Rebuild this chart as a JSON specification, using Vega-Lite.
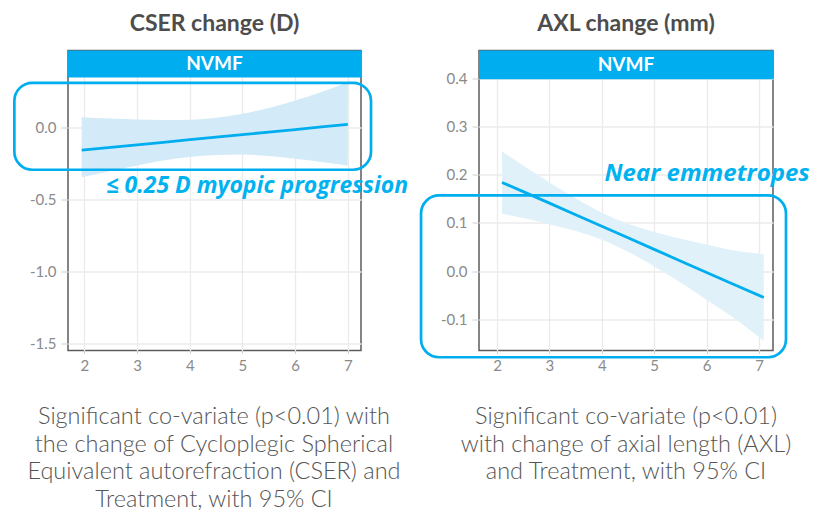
{
  "$schema": "https://vega.github.io/schema/vega-lite/v6.json",
  "background": "white",
  "padding": {"left": 12, "top": 11.5, "right": 5, "bottom": 0},
  "bounds": "flush",
  "spacing": 118,
  "config": {
    "view": {"stroke": "#5c5c5c", "strokeWidth": 1.5},
    "axis": {
      "domain": false,
      "labelFont": "Lato",
      "labelFontSize": 15,
      "labelColor": "#8a8a8a",
      "tickColor": "#d0d0d0",
      "gridColor": "#ebebeb",
      "gridWidth": 1.3
    },
    "axisX": {"tickSize": 3, "labelPadding": 5},
    "axisY": {"tickSize": 7, "labelPadding": 5},
    "title": {
      "font": "Lato",
      "fontSize": 23,
      "fontWeight": "bold",
      "color": "#4d4d4d",
      "anchor": "middle",
      "baseline": "alphabetic",
      "offset": 14.5
    }
  },
  "hconcat": [
    {
      "width": 293,
      "height": 300,
      "title": {"text": "CSER change (D)"},
      "layer": [
        {
          "data": {"values": [
            {"x": 1.95, "fit": -0.156, "lo": -0.344, "hi": 0.074},
            {"x": 2.5, "fit": -0.136, "lo": -0.300, "hi": 0.064},
            {"x": 3.0, "fit": -0.119, "lo": -0.262, "hi": 0.057},
            {"x": 3.5, "fit": -0.101, "lo": -0.228, "hi": 0.054},
            {"x": 4.0, "fit": -0.083, "lo": -0.204, "hi": 0.056},
            {"x": 4.5, "fit": -0.065, "lo": -0.190, "hi": 0.070},
            {"x": 5.0, "fit": -0.047, "lo": -0.186, "hi": 0.097},
            {"x": 5.5, "fit": -0.030, "lo": -0.196, "hi": 0.138},
            {"x": 6.0, "fit": -0.012, "lo": -0.216, "hi": 0.190},
            {"x": 6.5, "fit": 0.006, "lo": -0.238, "hi": 0.250},
            {"x": 7.0, "fit": 0.024, "lo": -0.262, "hi": 0.317}
          ]},
          "layer": [
            {
              "mark": {"type": "area", "color": "#D3EBF8", "opacity": 1, "interpolate": "monotone"},
              "encoding": {
                "x": {"field": "x", "type": "quantitative", "scale": {"domain": [1.69, 7.25], "nice": false, "zero": false}, "axis": {"values": [2, 3, 4, 5, 6, 7], "format": "d", "title": null}},
                "y": {"field": "lo", "type": "quantitative", "scale": {"domain": [-1.55, 0.538], "nice": false, "zero": false}, "axis": {"values": [-1.5, -1, -0.5, 0], "title": null, "labelExpr": "replace(format(datum.value, '.1f'), '\u2212', '-')"}},
                "y2": {"field": "hi"}
              }
            },
            {
              "mark": {"type": "line", "color": "#00AEEF", "strokeWidth": 2.8},
              "encoding": {
                "x": {"field": "x", "type": "quantitative", "scale": {"domain": [1.69, 7.25], "nice": false, "zero": false}, "axis": {"title": null}},
                "y": {"field": "fit", "type": "quantitative", "scale": {"domain": [-1.55, 0.538], "nice": false, "zero": false}, "axis": {"title": null}}
              }
            }
          ]
        },
        {
          "data": {"values": [{"x0": 1.69, "x1": 7.25, "y0": 0.35, "y1": 0.538, "xc": 4.47, "yc": 0.444, "label": "NVMF"}]},
          "layer": [
            {
              "mark": {"type": "rect", "color": "#00AEEF", "opacity": 1},
              "encoding": {
                "x": {"field": "x0", "type": "quantitative", "scale": {"domain": [1.69, 7.25], "nice": false, "zero": false}, "axis": {"title": null}},
                "x2": {"field": "x1"},
                "y": {"field": "y0", "type": "quantitative", "scale": {"domain": [-1.55, 0.538], "nice": false, "zero": false}, "axis": {"title": null}},
                "y2": {"field": "y1"}
              }
            },
            {
              "mark": {"type": "text", "color": "white", "font": "Lato", "fontWeight": "bold", "fontSize": 19, "align": "center", "baseline": "middle"},
              "encoding": {
                "x": {"field": "xc", "type": "quantitative", "scale": {"domain": [1.69, 7.25], "nice": false, "zero": false}, "axis": {"title": null}},
                "y": {"field": "yc", "type": "quantitative", "scale": {"domain": [-1.55, 0.538], "nice": false, "zero": false}, "axis": {"title": null}},
                "text": {"field": "label"}
              }
            }
          ]
        },
        {
          "data": {"values": [{"x0": 0.672, "x1": 7.44, "y0": -0.292, "y1": 0.313}]},
          "mark": {"type": "rect", "filled": false, "stroke": "#00AEEF", "strokeWidth": 2.7, "cornerRadius": 18},
          "encoding": {
            "x": {"field": "x0", "type": "quantitative", "scale": {"domain": [1.69, 7.25], "nice": false, "zero": false}, "axis": {"title": null}},
            "x2": {"field": "x1"},
            "y": {"field": "y0", "type": "quantitative", "scale": {"domain": [-1.55, 0.538], "nice": false, "zero": false}, "axis": {"title": null}},
            "y2": {"field": "y1"}
          }
        },
        {
          "data": {"values": [{"x": 2.41, "y": -0.452, "label": "≤ 0.25 D myopic progression"}]},
          "mark": {"type": "text", "color": "#00B2EF", "font": "Open Sans", "fontStyle": "italic", "fontWeight": "bold", "fontSize": 23, "align": "left", "baseline": "alphabetic"},
          "encoding": {
            "x": {"field": "x", "type": "quantitative", "scale": {"domain": [1.69, 7.25], "nice": false, "zero": false}, "axis": {"title": null}},
            "y": {"field": "y", "type": "quantitative", "scale": {"domain": [-1.55, 0.538], "nice": false, "zero": false}, "axis": {"title": null}},
            "text": {"field": "label"}
          }
        },
        {
          "data": {"values": [{"x": 4.46, "y": -2.064, "label": "Significant co-variate (p<0.01) with\nthe change of Cycloplegic Spherical\nEquivalent autorefraction (CSER) and\nTreatment, with 95% CI"}]},
          "mark": {"type": "text", "color": "#555555", "font": "Lato", "fontWeight": 300, "fontSize": 23.5, "lineBreak": "\n", "lineHeight": 27.5, "align": "center", "baseline": "alphabetic"},
          "encoding": {
            "x": {"field": "x", "type": "quantitative", "scale": {"domain": [1.69, 7.25], "nice": false, "zero": false}, "axis": {"title": null}},
            "y": {"field": "y", "type": "quantitative", "scale": {"domain": [-1.55, 0.538], "nice": false, "zero": false}, "axis": {"title": null}},
            "text": {"field": "label"}
          }
        }
      ]
    },
    {
      "width": 294,
      "height": 300,
      "title": {"text": "AXL change (mm)"},
      "layer": [
        {
          "data": {"values": [
            {"x": 2.095, "fit": 0.184, "lo": 0.119, "hi": 0.249},
            {"x": 2.5, "fit": 0.165, "lo": 0.110, "hi": 0.219},
            {"x": 3.0, "fit": 0.141, "lo": 0.097, "hi": 0.184},
            {"x": 3.5, "fit": 0.117, "lo": 0.083, "hi": 0.151},
            {"x": 4.0, "fit": 0.093, "lo": 0.065, "hi": 0.121},
            {"x": 4.5, "fit": 0.069, "lo": 0.040, "hi": 0.098},
            {"x": 5.0, "fit": 0.045, "lo": 0.010, "hi": 0.081},
            {"x": 5.5, "fit": 0.021, "lo": -0.024, "hi": 0.067},
            {"x": 6.0, "fit": -0.003, "lo": -0.060, "hi": 0.055},
            {"x": 6.5, "fit": -0.027, "lo": -0.096, "hi": 0.043},
            {"x": 7.09, "fit": -0.055, "lo": -0.145, "hi": 0.035}
          ]},
          "layer": [
            {
              "mark": {"type": "area", "color": "#E0F1FA", "opacity": 1, "interpolate": "monotone"},
              "encoding": {
                "x": {"field": "x", "type": "quantitative", "scale": {"domain": [1.656, 7.267], "nice": false, "zero": false}, "axis": {"values": [2, 3, 4, 5, 6, 7], "format": "d", "title": null}},
                "y": {"field": "lo", "type": "quantitative", "scale": {"domain": [-0.165, 0.458], "nice": false, "zero": false}, "axis": {"values": [-0.1, 0, 0.1, 0.2, 0.3, 0.4], "title": null, "labelExpr": "replace(format(datum.value, '.1f'), '\u2212', '-')"}},
                "y2": {"field": "hi"}
              }
            },
            {
              "mark": {"type": "line", "color": "#00AEEF", "strokeWidth": 2.8},
              "encoding": {
                "x": {"field": "x", "type": "quantitative", "scale": {"domain": [1.656, 7.267], "nice": false, "zero": false}, "axis": {"title": null}},
                "y": {"field": "fit", "type": "quantitative", "scale": {"domain": [-0.165, 0.458], "nice": false, "zero": false}, "axis": {"title": null}}
              }
            }
          ]
        },
        {
          "data": {"values": [{"x0": 1.656, "x1": 7.267, "y0": 0.3985, "y1": 0.458, "xc": 4.4615, "yc": 0.428, "label": "NVMF"}]},
          "layer": [
            {
              "mark": {"type": "rect", "color": "#00AEEF", "opacity": 1},
              "encoding": {
                "x": {"field": "x0", "type": "quantitative", "scale": {"domain": [1.656, 7.267], "nice": false, "zero": false}, "axis": {"title": null}},
                "x2": {"field": "x1"},
                "y": {"field": "y0", "type": "quantitative", "scale": {"domain": [-0.165, 0.458], "nice": false, "zero": false}, "axis": {"title": null}},
                "y2": {"field": "y1"}
              }
            },
            {
              "mark": {"type": "text", "color": "white", "font": "Lato", "fontWeight": "bold", "fontSize": 19, "align": "center", "baseline": "middle"},
              "encoding": {
                "x": {"field": "xc", "type": "quantitative", "scale": {"domain": [1.656, 7.267], "nice": false, "zero": false}, "axis": {"title": null}},
                "y": {"field": "yc", "type": "quantitative", "scale": {"domain": [-0.165, 0.458], "nice": false, "zero": false}, "axis": {"title": null}},
                "text": {"field": "label"}
              }
            }
          ]
        },
        {
          "data": {"values": [{"x0": 0.55, "x1": 7.515, "y0": -0.179, "y1": 0.157}]},
          "mark": {"type": "rect", "filled": false, "stroke": "#00AEEF", "strokeWidth": 2.7, "cornerRadius": 18},
          "encoding": {
            "x": {"field": "x0", "type": "quantitative", "scale": {"domain": [1.656, 7.267], "nice": false, "zero": false}, "axis": {"title": null}},
            "x2": {"field": "x1"},
            "y": {"field": "y0", "type": "quantitative", "scale": {"domain": [-0.165, 0.458], "nice": false, "zero": false}, "axis": {"title": null}},
            "y2": {"field": "y1"}
          }
        },
        {
          "data": {"values": [{"x": 4.05, "y": 0.186, "label": "Near emmetropes"}]},
          "mark": {"type": "text", "color": "#00B2EF", "font": "Open Sans", "fontStyle": "italic", "fontWeight": "bold", "fontSize": 24, "align": "left", "baseline": "alphabetic"},
          "encoding": {
            "x": {"field": "x", "type": "quantitative", "scale": {"domain": [1.656, 7.267], "nice": false, "zero": false}, "axis": {"title": null}},
            "y": {"field": "y", "type": "quantitative", "scale": {"domain": [-0.165, 0.458], "nice": false, "zero": false}, "axis": {"title": null}},
            "text": {"field": "label"}
          }
        },
        {
          "data": {"values": [{"x": 4.462, "y": -0.318, "label": "Significant co-variate (p<0.01)\nwith change of axial length (AXL)\nand Treatment, with 95% CI"}]},
          "mark": {"type": "text", "color": "#555555", "font": "Lato", "fontWeight": 300, "fontSize": 23.5, "lineBreak": "\n", "lineHeight": 27.5, "align": "center", "baseline": "alphabetic"},
          "encoding": {
            "x": {"field": "x", "type": "quantitative", "scale": {"domain": [1.656, 7.267], "nice": false, "zero": false}, "axis": {"title": null}},
            "y": {"field": "y", "type": "quantitative", "scale": {"domain": [-0.165, 0.458], "nice": false, "zero": false}, "axis": {"title": null}},
            "text": {"field": "label"}
          }
        }
      ]
    }
  ]
}
